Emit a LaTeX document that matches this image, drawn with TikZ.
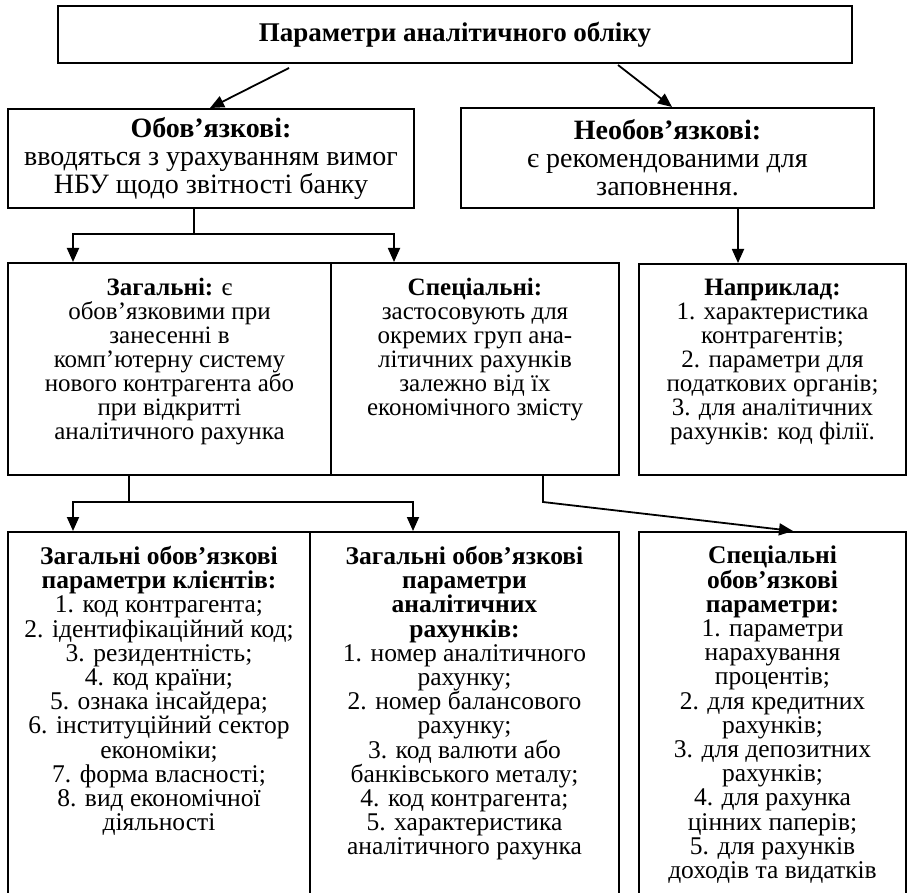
\documentclass[tikz,border=0pt]{standalone}
\usepackage{fontspec}
\setmainfont{Liberation Serif}
\usepackage{tikz}
\usetikzlibrary{positioning,arrows.meta}

\newcommand{\topsize}{\fontsize{27}{27}\selectfont}
\newcommand{\uppsize}{\fontsize{28}{28}\selectfont}
\newcommand{\midsize}{\fontsize{25}{24}\selectfont}
\newcommand{\lowsize}{\fontsize{25.5}{24.2}\selectfont}

\begin{document}
\begin{tikzpicture}[x=1pt,y=-1pt,
  box/.style={draw,line width=2pt,rectangle,inner sep=0pt,anchor=north west,align=center},
  txt/.style={align=center,inner sep=0pt},
  arr/.style={-{Triangle[length=14pt,width=12pt]},line width=1.8pt},
  lin/.style={line width=1.8pt}]
\useasboundingbox (0,0) rectangle (910,893);
\clip (0,0) rectangle (910,893);

% upper level
\node[box,minimum width=794pt,minimum height=57pt,font=\topsize\bfseries] (param) at (57,5) {Параметри аналітичного обліку};

\node[box,minimum width=406pt,minimum height=99pt,font=\uppsize] (oblig) at (7,108) {\textbf{Обов’язкові:}\\вводяться з урахуванням вимог\\НБУ щодо звітності банку};
\node[box,minimum width=413pt,minimum height=100pt,font=\uppsize] (neoblig) at (460,107) {\textbf{Необов’язкові:}\\є рекомендованими для\\заповнення.};

% middle level
\node[box,minimum width=323pt,minimum height=212pt] (gen) at (7,262) {};
\node[box,minimum width=288pt,minimum height=212pt] (spec) at (330,262) {};
\node[box,minimum width=267pt,minimum height=211pt] (ex) at (638,263) {};

\node[txt,font=\midsize,below=16pt of gen.north] (gentxt) {\textbf{Загальні:} є\\обов’язковими при\\занесенні в\\комп’ютерну систему\\нового контрагента або\\при відкритті\\аналітичного рахунка};
\node[txt,font=\midsize,below=16pt of spec.north] (spectxt) {\textbf{Спеціальні:}\\застосовують для\\окремих груп ана-\\літичних рахунків\\залежно від їх\\економічного змісту};
\node[txt,font=\midsize,below=16pt of ex.north] (extxt) {\textbf{Наприклад:}\\1. характеристика\\контрагентів;\\2. параметри для\\податкових органів;\\3. для аналітичних\\рахунків: код філії.};

% lower level
\node[box,minimum width=302pt,minimum height=400pt] (clients) at (7,531) {};
\node[box,minimum width=309pt,minimum height=400pt] (accts) at (309,531) {};
\node[box,minimum width=267pt,minimum height=400pt] (specpar) at (638,531) {};

\node[txt,font=\lowsize,below=15pt of clients.north] (clientstxt) {\textbf{Загальні обов’язкові}\\\textbf{параметри клієнтів:}\\1. код контрагента;\\2. ідентифікаційний код;\\3. резидентність;\\4. код країни;\\5. ознака інсайдера;\\6. інституційний сектор\\економіки;\\7. форма власності;\\8. вид економічної\\діяльності};
\node[txt,font=\lowsize,below=15pt of accts.north] (acctstxt) {\textbf{Загальні обов’язкові}\\\textbf{параметри}\\\textbf{аналітичних}\\\textbf{рахунків:}\\1. номер аналітичного\\рахунку;\\2. номер балансового\\рахунку;\\3. код валюти або\\банківського металу;\\4. код контрагента;\\5. характеристика\\аналітичного рахунка};
\node[txt,font=\lowsize,below=15pt of specpar.north] (specpartxt) {\textbf{Спеціальні}\\\textbf{обов’язкові}\\\textbf{параметри:}\\1. параметри\\нарахування\\процентів;\\2. для кредитних\\рахунків;\\3. для депозитних\\рахунків;\\4. для рахунка\\цінних паперів;\\5. для рахунків\\доходів та видатків};

% connectors
\draw[arr] ([xshift=232pt,yshift=-4pt]param.south west) -- ([xshift=203pt]oblig.north west);
\draw[arr] ([xshift=561pt,yshift=-1pt]param.south west) -- ([xshift=212pt]neoblig.north west);

\draw[lin] ([xshift=187pt]oblig.south west) -- ++(0,25) coordinate (obfork);
\draw[arr] (obfork) -| ([xshift=66pt]gen.north west);
\draw[arr] (obfork) -| ([xshift=64pt]spec.north west);
\draw[arr] ([xshift=278pt]neoblig.south west) -- ([xshift=100pt]ex.north west);

\draw[lin] ([xshift=122pt]gen.south west) -- ++(0,26) coordinate (genfork);
\draw[arr] (genfork) -| ([xshift=66pt]clients.north west);
\draw[arr] (genfork) -| ([xshift=104pt]accts.north west);
\draw[arr] ([xshift=213pt]spec.south west) -- ++(0,26) -- ([xshift=155pt]specpar.north west);
\end{tikzpicture}
\end{document}
